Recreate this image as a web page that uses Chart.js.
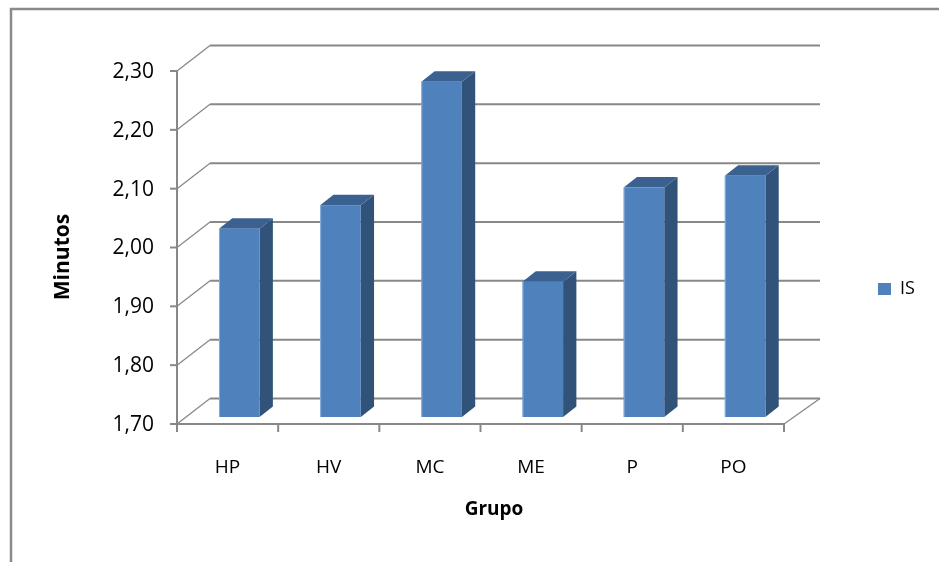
<!DOCTYPE html>
<html>
<head>
<meta charset="utf-8">
<title>Minutos por grupo</title>
<script src="https://cdn.jsdelivr.net/npm/chart.js@4/dist/chart.umd.min.js"></script>
<style>
  html, body { margin: 0; padding: 0; background: #ffffff; }
  canvas { display: block; }
</style>
</head>
<body>
<canvas id="chart" width="939" height="562"></canvas>
<script>
// Categories, values and axis ticks
const categories = ['HP', 'HV', 'MC', 'ME', 'P', 'PO'];
const seriesIS = [2.02, 2.06, 2.27, 1.93, 2.09, 2.11];
const seriesName = 'IS';
const yTicks = [1.70, 1.80, 1.90, 2.00, 2.10, 2.20, 2.30];
const xTitle = 'Grupo';
const yTitle = 'Minutos';

// 3D look: depth of the walls and of each column
const WALL_DX_LEFT = 33, WALL_DX_RIGHT = 36, WALL_DY = -25.5;
const BAR_SHIFT_X = 11.7, BAR_SHIFT_Y = -7, BAR_HALF = 20.3;
const BAR_DX = 13.3, BAR_DY = -10.5;
const GRID = '#888888';
const FONT = '"Open Sans", "Noto Sans", sans-serif';

const fmt = v => v.toFixed(2).replace('.', ',');

function line(ctx, x1, y1, x2, y2) {
  ctx.beginPath();
  ctx.moveTo(x1, y1);
  ctx.lineTo(x2, y2);
  ctx.stroke();
}

const column3d = {
  id: 'column3d',
  beforeDatasetsDraw(chart) {
    const ctx = chart.ctx;
    const { left, right, bottom } = chart.chartArea;
    const y = chart.scales.y;
    ctx.save();

    // outer frame
    ctx.strokeStyle = '#8a8a8a';
    ctx.lineWidth = 2.5;
    ctx.beginPath();
    ctx.moveTo(11, 562);
    ctx.lineTo(11, 9);
    ctx.lineTo(939, 9);
    ctx.stroke();

    // back wall gridlines and side wall diagonals
    ctx.strokeStyle = GRID;
    yTicks.forEach(t => {
      const yy = y.getPixelForValue(t);
      ctx.lineWidth = 2;
      line(ctx, left + WALL_DX_LEFT, yy + WALL_DY, right + WALL_DX_RIGHT, yy + WALL_DY);
      ctx.lineWidth = 1.3;
      line(ctx, left, yy, left + WALL_DX_LEFT, yy + WALL_DY);
      ctx.lineWidth = 2;
      line(ctx, left - 7, yy, left, yy);
    });

    // value axis
    ctx.lineWidth = 2;
    line(ctx, left, y.getPixelForValue(yTicks[yTicks.length - 1]), left, bottom);

    // floor edges
    line(ctx, left, bottom, right, bottom);
    ctx.lineWidth = 1.3;
    line(ctx, right, bottom, right + WALL_DX_RIGHT, bottom + WALL_DY);

    // category ticks
    ctx.lineWidth = 2;
    const w = (right - left) / categories.length;
    for (let k = 0; k <= categories.length; k++) {
      const xx = left + k * w;
      line(ctx, xx, bottom, xx, bottom + 8);
    }
    ctx.restore();
  },
  afterDatasetsDraw(chart) {
    const ctx = chart.ctx;
    const y = chart.scales.y;
    const meta = chart.getDatasetMeta(0);
    const basePx = y.getPixelForValue(y.min);
    ctx.save();
    meta.data.forEach(el => {
      const cx = el.x + BAR_SHIFT_X;
      const L = cx - BAR_HALF, R = cx + BAR_HALF;
      const T = el.y + BAR_SHIFT_Y, B = basePx + BAR_SHIFT_Y;

      // side face
      ctx.fillStyle = '#325379';
      ctx.beginPath();
      ctx.moveTo(R, T);
      ctx.lineTo(R + BAR_DX, T + BAR_DY);
      ctx.lineTo(R + BAR_DX, B + BAR_DY);
      ctx.lineTo(R, B);
      ctx.closePath();
      ctx.fill();

      // top face
      ctx.fillStyle = '#3b6190';
      ctx.beginPath();
      ctx.moveTo(L, T);
      ctx.lineTo(L + BAR_DX, T + BAR_DY);
      ctx.lineTo(R + BAR_DX, T + BAR_DY);
      ctx.lineTo(R, T);
      ctx.closePath();
      ctx.fill();

      // front face
      ctx.fillStyle = '#4f81bd';
      ctx.fillRect(L, T, R - L, B - T);
      ctx.strokeStyle = 'rgba(150,185,226,0.8)';
      ctx.lineWidth = 1;
      line(ctx, L + 0.5, T, L + 0.5, B);
    });
    ctx.restore();
  },
  afterDraw(chart) {
    const ctx = chart.ctx;
    const y = chart.scales.y;
    const x = chart.scales.x;
    ctx.save();
    ctx.fillStyle = '#000000';

    // value tick labels
    ctx.font = '21px ' + FONT;
    ctx.textAlign = 'right';
    ctx.textBaseline = 'middle';
    yTicks.forEach(t => ctx.fillText(fmt(t), 154, y.getPixelForValue(t) + 1));

    // category labels
    ctx.font = '19px ' + FONT;
    ctx.textAlign = 'center';
    categories.forEach((c, i) => ctx.fillText(c, x.getPixelForValue(i), 468));

    // axis titles
    ctx.font = 'bold 19px ' + FONT;
    ctx.fillText(xTitle, 494, 510);
    ctx.save();
    ctx.translate(69, 257);
    ctx.rotate(-Math.PI / 2);
    ctx.textBaseline = 'alphabetic';
    ctx.font = 'bold 21px ' + FONT;
    ctx.fillText(yTitle, 0, 0);
    ctx.restore();

    // legend
    ctx.fillStyle = '#4f81bd';
    ctx.fillRect(878, 283, 13, 12);
    ctx.fillStyle = '#000000';
    ctx.font = '18px ' + FONT;
    ctx.textAlign = 'left';
    ctx.fillText(seriesName, 900, 289);
    ctx.restore();
  }
};

new Chart(document.getElementById('chart'), {
  type: 'bar',
  data: {
    labels: categories,
    datasets: [{
      label: seriesName,
      data: seriesIS,
      backgroundColor: 'rgba(0,0,0,0)',
      borderWidth: 0
    }]
  },
  options: {
    responsive: false,
    animation: false,
    devicePixelRatio: 1,
    layout: { padding: { left: 177, right: 155, top: 71, bottom: 138 } },
    scales: {
      x: { display: false, offset: true },
      y: { display: false, min: 1.70, max: 2.30, ticks: { stepSize: 0.1 } }
    },
    plugins: {
      legend: { display: false },
      tooltip: { enabled: false }
    }
  },
  plugins: [column3d]
});
</script>
</body>
</html>
